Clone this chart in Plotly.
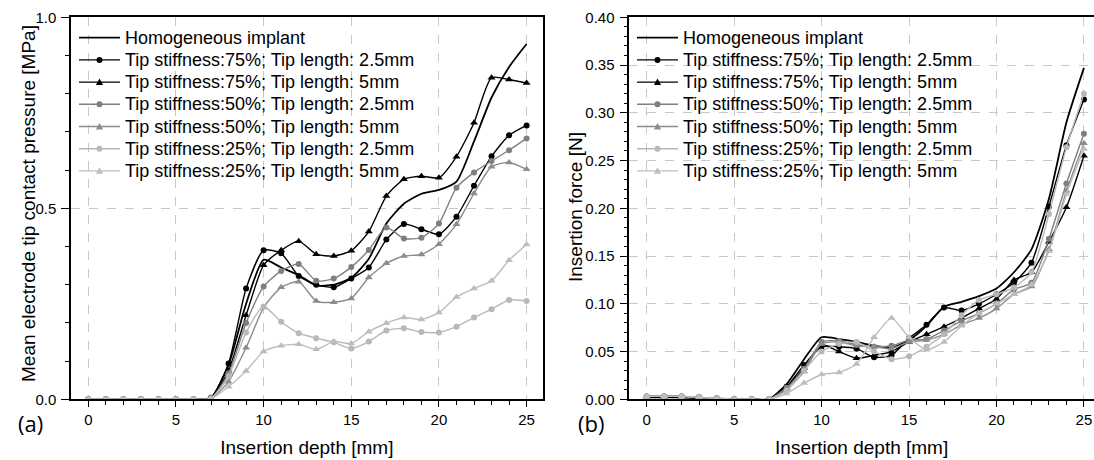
import plotly.graph_objects as go

depth = list(range(26))

names = [
    "Homogeneous implant",
    "Tip stiffness:75%; Tip length: 2.5mm",
    "Tip stiffness:75%; Tip length: 5mm",
    "Tip stiffness:50%; Tip length: 2.5mm",
    "Tip stiffness:50%; Tip length: 5mm",
    "Tip stiffness:25%; Tip length: 2.5mm",
    "Tip stiffness:25%; Tip length: 5mm",
]

# (a) mean electrode tip contact pressure [MPa]
p_homog = [0, 0, 0, 0, 0, 0, 0, 0.004, 0.09, 0.25, 0.365, 0.345, 0.325, 0.298, 0.300, 0.318,
           0.368, 0.46, 0.512, 0.538, 0.548, 0.57, 0.675, 0.79, 0.87, 0.93]
p_75_25 = [0, 0, 0, 0, 0, 0, 0, 0.004, 0.094, 0.29, 0.39, 0.382, 0.323, 0.30, 0.293, 0.316,
           0.345, 0.418, 0.459, 0.445, 0.432, 0.478, 0.559, 0.636, 0.691, 0.717]
p_75_5 = [0, 0, 0, 0, 0, 0, 0, 0.003, 0.075, 0.22, 0.351, 0.39, 0.414, 0.38, 0.375, 0.389,
          0.439, 0.532, 0.576, 0.584, 0.58, 0.635, 0.724, 0.842, 0.837, 0.828]
p_50_25 = [0, 0, 0, 0, 0, 0, 0, 0.003, 0.068, 0.20, 0.295, 0.336, 0.354, 0.31, 0.316, 0.346,
           0.391, 0.45, 0.421, 0.423, 0.46, 0.554, 0.594, 0.624, 0.652, 0.683]
p_50_5 = [0, 0, 0, 0, 0, 0, 0, 0.002, 0.046, 0.135, 0.24, 0.293, 0.308, 0.257, 0.254, 0.264,
          0.319, 0.356, 0.375, 0.379, 0.406, 0.458, 0.539, 0.609, 0.62, 0.602]
p_25_25 = [0, 0, 0, 0, 0, 0, 0, 0.002, 0.06, 0.175, 0.243, 0.203, 0.173, 0.16, 0.149, 0.133,
           0.151, 0.18, 0.186, 0.176, 0.175, 0.19, 0.214, 0.236, 0.26, 0.257]
p_25_5 = [0, 0, 0, 0, 0, 0, 0, 0.001, 0.033, 0.074, 0.125, 0.14, 0.144, 0.131, 0.151, 0.146,
          0.177, 0.199, 0.214, 0.209, 0.227, 0.268, 0.29, 0.31, 0.364, 0.405]

# (b) insertion force [N]
f_homog = [0.002, 0.002, 0.002, 0.001, 0.001, 0, 0, 0, 0.016, 0.042, 0.065, 0.063, 0.06, 0.056,
           0.054, 0.062, 0.077, 0.097, 0.102, 0.108, 0.116, 0.133, 0.157, 0.21, 0.29, 0.347]
f_75_25 = [0.003, 0.003, 0.003, 0.002, 0.001, 0, 0, 0, 0.013, 0.036, 0.055, 0.055, 0.053, 0.044,
           0.046, 0.064, 0.078, 0.096, 0.093, 0.10, 0.11, 0.122, 0.143, 0.202, 0.266, 0.314]
f_75_5 = [0.003, 0.003, 0.003, 0.002, 0.001, 0, 0, 0, 0.012, 0.033, 0.057, 0.05, 0.043, 0.046,
          0.05, 0.06, 0.068, 0.076, 0.085, 0.095, 0.105, 0.125, 0.133, 0.165, 0.201, 0.255]
f_50_25 = [0.003, 0.003, 0.003, 0.002, 0.001, 0, 0, 0, 0.012, 0.032, 0.06, 0.061, 0.057, 0.055,
           0.056, 0.062, 0.063, 0.072, 0.082, 0.09, 0.10, 0.115, 0.122, 0.168, 0.226, 0.278]
f_50_5 = [0.003, 0.003, 0.003, 0.002, 0.001, 0, 0, 0, 0.01, 0.029, 0.058, 0.06, 0.056, 0.055,
          0.053, 0.06, 0.062, 0.068, 0.078, 0.085, 0.095, 0.11, 0.118, 0.157, 0.218, 0.268]
f_25_25 = [0.003, 0.003, 0.003, 0.002, 0.001, 0, 0, 0, 0.009, 0.03, 0.05, 0.058, 0.06, 0.05,
           0.042, 0.045, 0.055, 0.068, 0.088, 0.104, 0.11, 0.117, 0.133, 0.194, 0.264, 0.32]
f_25_5 = [0.003, 0.003, 0.003, 0.002, 0.001, 0, 0, 0, 0.006, 0.017, 0.026, 0.028, 0.037, 0.065,
          0.085, 0.065, 0.052, 0.06, 0.077, 0.09, 0.10, 0.11, 0.12, 0.155, 0.215, 0.262]

pressure = [p_homog, p_75_25, p_75_5, p_50_25, p_50_5, p_25_25, p_25_5]
force = [f_homog, f_75_25, f_75_5, f_50_25, f_50_5, f_25_25, f_25_5]

colors = ["#000000", "#000000", "#000000", "#7f7f7f", "#8c8c8c", "#b8b8b8", "#bdbdbd"]
symbols = [None, "circle", "triangle-up", "circle", "triangle-up", "circle", "triangle-up"]
msizes = [0, 6, 7, 6, 7, 6, 7]
lwidths = [1.8, 1.4, 1.4, 1.4, 1.4, 1.4, 1.4]

FONT = "Liberation Sans, Arial, sans-serif"
W, H = 1094, 460

fig = go.Figure()

for data, xa, ya in [(pressure, "x", "y"), (force, "x2", "y2")]:
    for i in range(7):
        mode = "lines" if symbols[i] is None else "lines+markers"
        fig.add_trace(go.Scatter(
            x=depth, y=data[i], name=names[i], mode=mode,
            xaxis=xa, yaxis=ya, showlegend=False,
            line=dict(color=colors[i], width=lwidths[i], shape="spline", smoothing=0.6),
            marker=dict(symbol=symbols[i] or "circle", size=msizes[i] if msizes[i] else 1, color=colors[i]),
        ))


def px(xp):
    return xp / W


def py(yp):
    return 1 - yp / H


# hand-built legends (line sample + marker + text), one per panel
shapes = []
annotations = []
for (lx0, lx1, tx) in [(79, 120, 123), (637, 678, 681)]:
    for k in range(7):
        yc = 37.7 + 22.2 * k
        shapes.append(dict(type="line", xref="paper", yref="paper",
                           x0=px(lx0), x1=px(lx1), y0=py(yc), y1=py(yc),
                           line=dict(color=colors[k], width=lwidths[k]), layer="above"))
        mx = (lx0 + lx1) / 2
        if symbols[k] == "circle":
            r = 3
            shapes.append(dict(type="circle", xref="paper", yref="paper",
                               x0=px(mx - r), x1=px(mx + r), y0=py(yc + r), y1=py(yc - r),
                               fillcolor=colors[k], line=dict(color=colors[k], width=0), layer="above"))
        elif symbols[k] == "triangle-up":
            s = 3.6
            path = "M{:.5f},{:.5f} L{:.5f},{:.5f} L{:.5f},{:.5f} Z".format(
                px(mx), py(yc - s), px(mx - s), py(yc + s * 0.8), px(mx + s), py(yc + s * 0.8))
            shapes.append(dict(type="path", xref="paper", yref="paper", path=path,
                               fillcolor=colors[k], line=dict(color=colors[k], width=0), layer="above"))
        annotations.append(dict(text=names[k], x=px(tx), y=py(yc), xref="paper", yref="paper",
                                xanchor="left", yanchor="middle", showarrow=False,
                                font=dict(family=FONT, size=18, color="black")))

annotations += [
    dict(text="(a)", x=px(16), y=py(423), xref="paper", yref="paper",
         xanchor="left", yanchor="middle", showarrow=False,
         font=dict(family="Open Sans, sans-serif", size=22, color="black")),
    dict(text="(b)", x=px(576), y=py(423), xref="paper", yref="paper",
         xanchor="left", yanchor="middle", showarrow=False,
         font=dict(family="Open Sans, sans-serif", size=22, color="black")),
    dict(text="Mean electrode tip contact pressure [MPa]", x=px(28), y=py(204), xref="paper", yref="paper",
         xanchor="center", yanchor="middle", textangle=-90, showarrow=False,
         font=dict(family=FONT, size=19, color="black")),
    dict(text="Insertion force [N]", x=px(576), y=py(207), xref="paper", yref="paper",
         xanchor="center", yanchor="middle", textangle=-90, showarrow=False,
         font=dict(family=FONT, size=19, color="black")),
]

axis_common = dict(
    showline=True, linecolor="black", linewidth=1.5, mirror=True,
    ticks="outside", tickwidth=1.2, tickcolor="black",
    showgrid=True, gridcolor="#c8c8c8", griddash="dash", gridwidth=1,
    zeroline=False, tickfont=dict(family=FONT, size=15, color="black"),
    automargin=False,
)

xcommon = dict(axis_common, tick0=0, dtick=5, ticklen=6,
               minor=dict(dtick=1, ticks="outside", ticklen=4, tickcolor="black", showgrid=False),
               title=dict(text="Insertion depth [mm]", font=dict(family=FONT, size=19), standoff=14))

fig.update_layout(
    width=W, height=H,
    margin=dict(l=0, r=0, t=0, b=0),
    paper_bgcolor="white", plot_bgcolor="white",
    font=dict(family=FONT, color="black"),
    showlegend=False,
    xaxis=dict(xcommon, domain=[0.0649, 0.4961], range=[-0.987, 25.92]),
    yaxis=dict(axis_common, domain=[0.132, 0.9624], range=[0, 1.0], tick0=0, dtick=0.5, tickformat=".1f",
               ticklen=8, ticklabelstandoff=2,
               minor=dict(dtick=0.1, ticks="outside", ticklen=4, tickcolor="black", showgrid=False)),
    xaxis2=dict(xcommon, domain=[0.5752, 1.0], range=[-0.995, 25.575], anchor="y2"),
    yaxis2=dict(axis_common, domain=[0.132, 0.9624], range=[0, 0.40], tick0=0, dtick=0.05, tickformat=".2f",
                ticklen=8, ticklabelstandoff=2, anchor="x2",
                minor=dict(dtick=0.01, ticks="outside", ticklen=4, tickcolor="black", showgrid=False)),
    shapes=shapes,
    annotations=annotations,
)

fig.write_html("out.html")
